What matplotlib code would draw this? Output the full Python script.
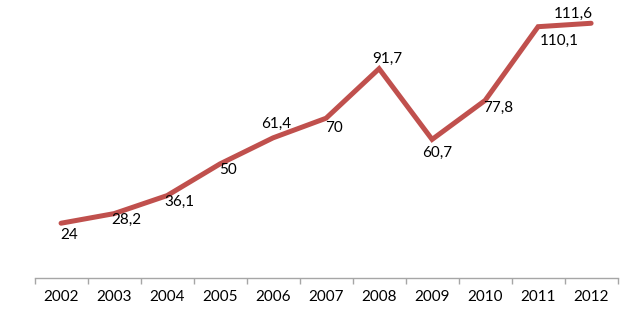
import matplotlib.pyplot as plt

anos = ['2002', '2003', '2004', '2005', '2006', '2007', '2008', '2009', '2010', '2011', '2012']
valores = [24, 28.2, 36.1, 50, 61.4, 70, 91.7, 60.7, 77.8, 110.1, 111.6]
rotulos = ['24', '28,2', '36,1', '50', '61,4', '70', '91,7', '60,7', '77,8', '110,1', '111,6']

# deslocamento dos rótulos em pixels (dx, dy) - dy positivo = para cima
desloc = [(8, -12), (12, -6), (12, -6), (8, -6), (3, 14), (8, -10),
          (8, 10), (5, -13), (13, -7), (21, -14), (-18, 9)]

plt.rcParams['font.family'] = ['Lato', 'DejaVu Sans']

fig = plt.figure(figsize=(6.4, 3.3), dpi=100)
ax = fig.add_axes([0.054, 0.1576, 0.911, 0.83])

x = list(range(len(anos)))
ax.plot(x, valores, color='#c0504d', lw=3.6, solid_capstyle='round', solid_joinstyle='miter')

for xi, v, r, (dx, dy) in zip(x, valores, rotulos, desloc):
    ax.annotate(r, (xi, v), xytext=(dx, dy), textcoords='offset pixels',
                ha='center', va='center', fontsize=11, color='black')

ax.set_xlim(-0.5, len(anos) - 0.5)
ax.set_ylim(0, 120)

for lado in ['top', 'right', 'left']:
    ax.spines[lado].set_visible(False)
ax.spines['bottom'].set_color('#a6a6a6')
ax.spines['bottom'].set_linewidth(1)

ax.set_yticks([])
ax.set_xticks([i - 0.5 for i in range(len(anos) + 1)])
ax.set_xticklabels([])
ax.tick_params(axis='x', which='major', length=4, color='#a6a6a6', width=1)
ax.set_xticks(x, minor=True)
ax.set_xticklabels(anos, minor=True)
ax.tick_params(axis='x', which='minor', length=0, pad=9, labelsize=11)

fig.savefig('out.png', dpi=100)
